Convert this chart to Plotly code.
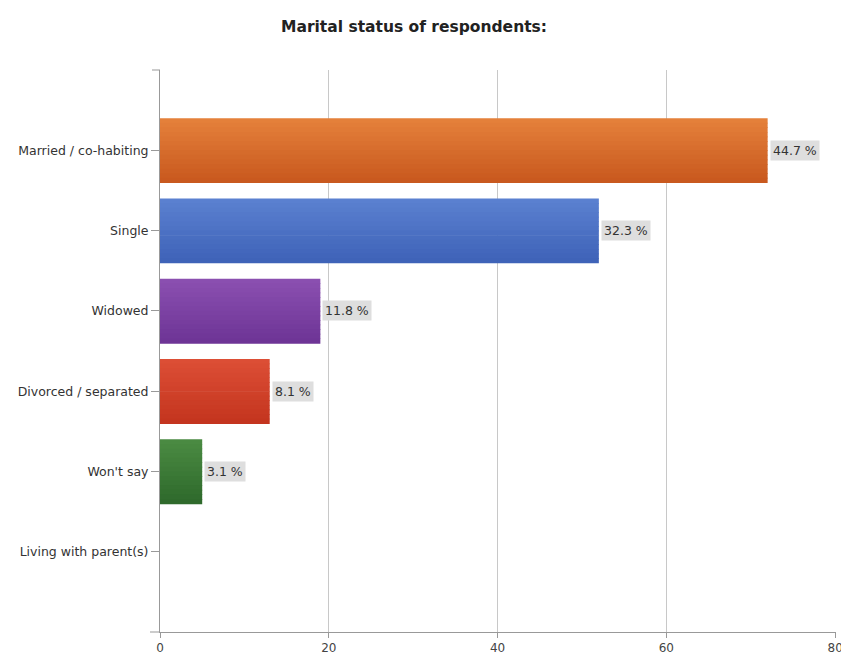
import plotly.graph_objects as go

# Survey responses: counts per marital status
categories = ["Married / co-habiting", "Single", "Widowed",
              "Divorced / separated", "Won't say", "Living with parent(s)"]
counts = [72, 52, 19, 13, 5, 0]
pct_labels = ["44.7 %", "32.3 %", "11.8 %", "8.1 %", "3.1 %", ""]
x_ticks = [0, 20, 40, 60, 80]

# top (light) and bottom (dark) shades for each bar's vertical gradient
top_colors = ["#e4803a", "#5a80d0", "#8a4fb0", "#dc4e35", "#4a8a42", "#888888"]
bot_colors = ["#c9591f", "#3f63b8", "#6e3596", "#c4351f", "#2f6a2c", "#777777"]

FONT = "DejaVu Sans"
AXIS_COLOR = "#999999"
PLOT_W = 841 - 160 - 5


def mix(c1, c2, t):
    a = [int(c1[i:i + 2], 16) for i in (1, 3, 5)]
    b = [int(c2[i:i + 2], 16) for i in (1, 3, 5)]
    return "rgb(%d,%d,%d)" % tuple(round(a[k] + (b[k] - a[k]) * t) for k in range(3))


fig = go.Figure()

bar_w = 0.8
n_strips = 14
strip = bar_w / n_strips
for s in range(n_strips):
    t = s / (n_strips - 1)
    # horizontal bars overlaid as thin strips to give a top-to-bottom shading
    fig.add_trace(go.Bar(
        x=counts, y=categories, orientation="h",
        width=strip * 1.15, offset=-bar_w / 2 + s * strip,
        marker=dict(color=[mix(top_colors[i], bot_colors[i], t) for i in range(len(counts))],
                    line=dict(width=0)),
        showlegend=False, hoverinfo="skip",
    ))

for cat, val, lab in zip(categories, counts, pct_labels):
    if lab:
        fig.add_annotation(x=val, y=cat, text=lab, showarrow=False,
                           xanchor="left", xshift=2,
                           font=dict(family=FONT, size=12.5, color="#333333"),
                           bgcolor="#dedede", borderpad=2)

fig.add_annotation(text="<b>Marital status of respondents:</b>", xref="paper", yref="paper",
                   x=(414 - 160) / PLOT_W, y=1, yanchor="middle", yshift=43, showarrow=False,
                   font=dict(family=FONT, size=15.5, color="#222222"))

# end tick at the top of the value axis and the left overhang of the base axis
fig.add_shape(type="line", xref="paper", yref="paper", x0=-8 / PLOT_W, x1=0, y0=1, y1=1,
              line=dict(color=AXIS_COLOR, width=1))
fig.add_shape(type="line", xref="paper", yref="paper", x0=-10 / PLOT_W, x1=0, y0=0, y1=0,
              line=dict(color=AXIS_COLOR, width=1))

fig.update_layout(
    width=841, height=655,
    margin=dict(l=160, r=5, t=70, b=23),
    paper_bgcolor="white", plot_bgcolor="white",
    barmode="overlay",
    font=dict(family=FONT, size=12, color="#333333"),
)
fig.update_xaxes(range=[0, 80.1], tickvals=x_ticks, automargin=False,
                 ticklabeloverflow="allow",
                 showgrid=True, gridcolor="#c8c8c8", gridwidth=1,
                 showline=True, linecolor=AXIS_COLOR, linewidth=1,
                 ticks="outside", ticklen=5, tickcolor=AXIS_COLOR,
                 zeroline=False, tickfont=dict(size=12, color="#444444"))
fig.update_yaxes(range=[6.0, -1.0], showgrid=False, automargin=False,
                 showline=True, linecolor=AXIS_COLOR, linewidth=1,
                 ticks="outside", ticklen=8, tickcolor=AXIS_COLOR,
                 tickfont=dict(size=12.5, color="#333333"))

fig.write_html("out.html")
